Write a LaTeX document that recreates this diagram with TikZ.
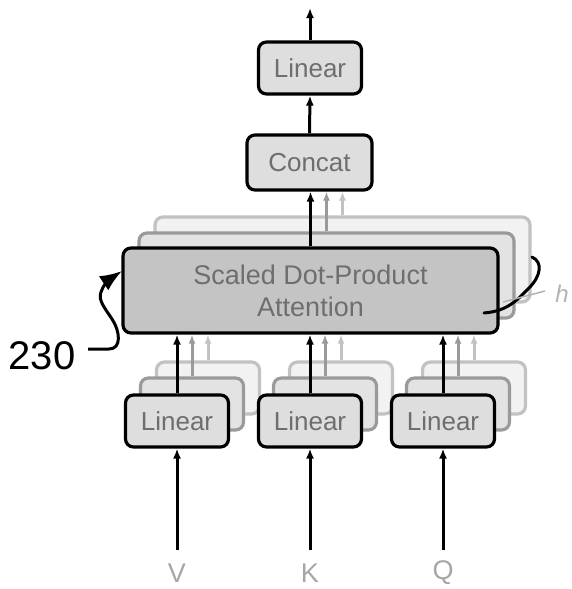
\documentclass[tikz,border=0pt]{standalone}
\usepackage{fontspec}
\setmainfont{Liberation Sans}
\usetikzlibrary{arrows.meta,calc}
\definecolor{attfill}{HTML}{C4C4C4}
\definecolor{linfill}{HTML}{DEDEDE}
\definecolor{txtgray}{HTML}{6E6E6E}
\definecolor{ghostA}{HTML}{9A9A9A}
\definecolor{ghostB}{HTML}{C2C2C2}
\tikzset{
  blk/.style={draw=black, line width=3.2pt, rounded corners=8pt, text=txtgray, inner sep=0pt, align=center},
  linbox/.style={blk, fill=linfill, minimum width=103pt, minimum height=52pt, font=\fontsize{26}{28}\selectfont},
  attbox/.style={blk, fill=attfill, minimum width=375pt, minimum height=85pt, font=\fontsize{27}{30}\selectfont},
  ghost1/.style={draw=ghostA, fill=gray!22},
  ghost2/.style={draw=ghostB, fill=gray!10},
  flow/.style={line width=3pt, -{Latex[length=10pt,width=8pt]}},
  gflow1/.style={flow, draw=ghostA, -{Latex[length=9pt,width=7pt]}},
  gflow2/.style={flow, draw=ghostB, -{Latex[length=9pt,width=7pt]}},
  inlabel/.style={text=gray!70, font=\fontsize{27}{28}\selectfont, inner sep=0pt},
}
\begin{document}
\begin{tikzpicture}[x=1pt,y=-1pt]
\useasboundingbox (0,0) rectangle (571,589);

% output stage
\node[linbox] (lintop) at (310,68) {Linear};
\node[linbox, minimum width=125pt, minimum height=55pt] (concat) at (309.5,162.5) {Concat};
\coordinate (out) at (310,8);

% stacked attention heads (back to front)
\node[attbox, ghost2] (att2) at (342.5,259.5) {};
\node[attbox, ghost1] (att1) at (326.5,275.5) {};
\node[attbox] (att) at (310.5,290.5) {Scaled Dot-Product\\[2pt]Attention};

% stacked input projections (back to front)
\foreach \n/\x in {V/177,K/310,Q/443}{
  \node[linbox, ghost2] (lin\n2) at (\x+31,388) {};
  \node[linbox, ghost1] (lin\n1) at (\x+15,404) {};
  \node[linbox] (lin\n) at (\x,421) {Linear};
  \coordinate (in\n) at (\x,550);
  \node[inlabel] (lab\n) at (\x,573) {\n};
}

% connectors
\draw[flow] (lintop.north) -- (out);
\draw[flow] (concat.north) -- (lintop.south);
\draw[flow] (att.north) -- (att.north |- concat.south);
\draw[gflow1] (att1.north) -- (att1.north |- concat.south);
\draw[gflow2] (att2.north) -- (att2.north |- concat.south);
\foreach \n in {V,K,Q}{
  \draw[flow] (in\n) -- (lin\n.south);
  \draw[flow] (lin\n.north) -- (lin\n.north |- att.south);
  \draw[gflow1] (lin\n1.north) -- (lin\n1.north |- att.south);
  \draw[gflow2] (lin\n2.north) -- (lin\n2.north |- att.south);
}

% head-count bracket
\draw[line width=3pt, line cap=round] (532,257) .. controls (543,262) and (541,276) .. (529,288)
  .. controls (517,300) and (508,311) .. (484,313);
\draw[line width=1.5pt, gray!60] (503,302) -- (545,291);
\node[text=gray!60, font=\fontsize{24}{26}\selectfont\itshape] (hlab) at (562,294) {h};

% reference numeral
\node[font=\fontsize{40}{44}\selectfont] (ref) at (42,356) {230};
\draw[line width=3pt, -{Latex[length=22pt,width=17pt]}] (88,349) -- (109,349)
  .. controls (122,349) and (120,331) .. (112,319)
  .. controls (104,307) and (98,300) .. (101,292)
  .. controls (103,285) and (110,279) .. (122,271);
\end{tikzpicture}
\end{document}
